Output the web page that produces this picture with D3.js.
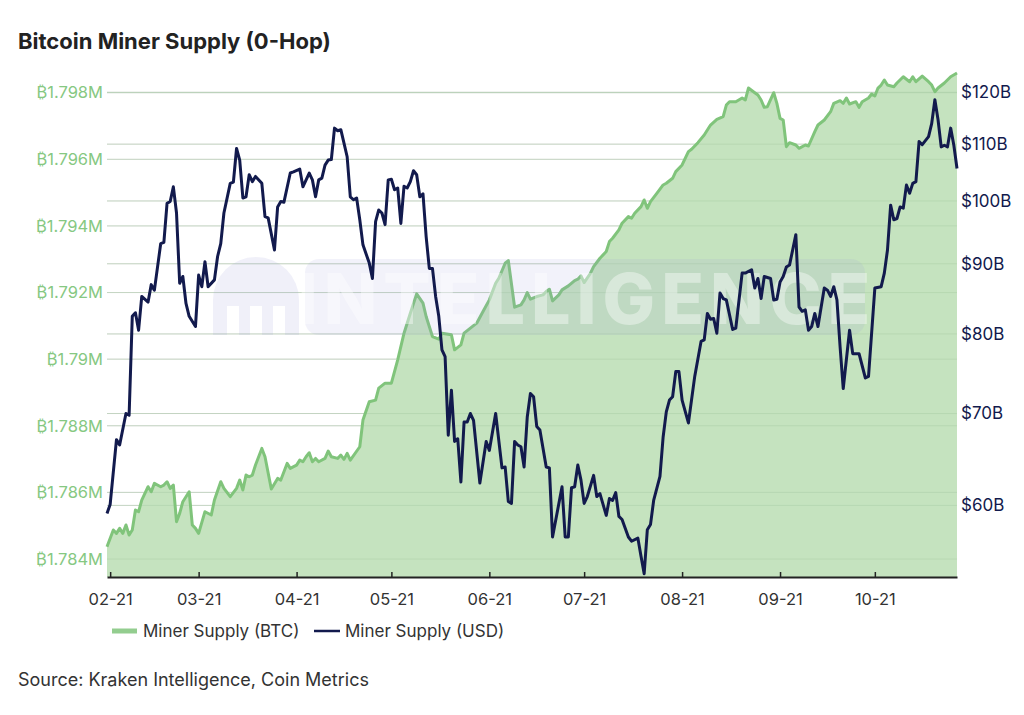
<!DOCTYPE html>
<html>
<head>
<meta charset="utf-8">
<script src="https://cdn.jsdelivr.net/npm/d3@7"></script>
<style>
  body { margin: 0; background: #fff; }
  svg { display: block; }
</style>
</head>
<body>
<svg id="chart" width="1024" height="715"></svg>
<script>
// ---------------- DATA ----------------
const btcDates = [
  "2021-01-31","2021-02-02","2021-02-03","2021-02-04","2021-02-05","2021-02-06","2021-02-07","2021-02-08",
  "2021-02-09","2021-02-10","2021-02-11","2021-02-13","2021-02-14","2021-02-15","2021-02-17","2021-02-18",
  "2021-02-19","2021-02-20","2021-02-21","2021-02-22","2021-02-23","2021-02-24","2021-02-26","2021-02-27",
  "2021-02-28","2021-03-01","2021-03-03","2021-03-05","2021-03-06","2021-03-08","2021-03-09","2021-03-11",
  "2021-03-13","2021-03-14","2021-03-15","2021-03-16","2021-03-17","2021-03-18","2021-03-19","2021-03-21",
  "2021-03-22","2021-03-24","2021-03-26","2021-03-27","2021-03-29","2021-03-30","2021-04-01","2021-04-02",
  "2021-04-03","2021-04-04","2021-04-05","2021-04-06","2021-04-07","2021-04-08","2021-04-10","2021-04-11",
  "2021-04-12","2021-04-14","2021-04-15","2021-04-16","2021-04-17","2021-04-18","2021-04-21","2021-04-22",
  "2021-04-24","2021-04-26","2021-04-27","2021-04-29","2021-05-01","2021-05-03","2021-05-05","2021-05-07",
  "2021-05-09","2021-05-11","2021-05-12","2021-05-14","2021-05-16","2021-05-17","2021-05-20","2021-05-21",
  "2021-05-23","2021-05-24","2021-05-26","2021-05-28","2021-05-30","2021-06-01","2021-06-03","2021-06-04",
  "2021-06-06","2021-06-07","2021-06-09","2021-06-11","2021-06-12","2021-06-13","2021-06-14","2021-06-16",
  "2021-06-18","2021-06-19","2021-06-20","2021-06-21","2021-06-23","2021-06-24","2021-06-26","2021-06-28",
  "2021-06-29","2021-06-30","2021-07-01","2021-07-03","2021-07-04","2021-07-06","2021-07-08","2021-07-09",
  "2021-07-10","2021-07-12","2021-07-13","2021-07-15","2021-07-16","2021-07-17","2021-07-19","2021-07-20",
  "2021-07-21","2021-07-22","2021-07-24","2021-07-26","2021-07-27","2021-07-29","2021-07-30","2021-08-01",
  "2021-08-03","2021-08-04","2021-08-06","2021-08-08","2021-08-10","2021-08-12","2021-08-14","2021-08-15",
  "2021-08-16","2021-08-18","2021-08-20","2021-08-21","2021-08-22","2021-08-24","2021-08-25","2021-08-26",
  "2021-08-27","2021-08-28","2021-08-30","2021-08-31","2021-09-01","2021-09-02","2021-09-03","2021-09-04",
  "2021-09-06","2021-09-07","2021-09-09","2021-09-10","2021-09-12","2021-09-13","2021-09-15","2021-09-17",
  "2021-09-18","2021-09-20","2021-09-21","2021-09-22","2021-09-23","2021-09-25","2021-09-26","2021-09-27",
  "2021-09-29","2021-09-30","2021-10-01","2021-10-02","2021-10-03","2021-10-04","2021-10-05","2021-10-07",
  "2021-10-08","2021-10-10","2021-10-12","2021-10-13","2021-10-14","2021-10-16","2021-10-18","2021-10-19",
  "2021-10-20","2021-10-21","2021-10-23","2021-10-25","2021-10-27"
];
// Miner supply in millions of BTC
const btcValues = [
  1.78437,1.78487,1.78477,1.78492,1.78477,1.78502,1.78472,1.78487,
  1.78547,1.78542,1.78577,1.78617,1.78602,1.78627,1.78617,1.78622,
  1.78632,1.78612,1.78622,1.78512,1.78537,1.78572,1.78602,1.78502,
  1.78492,1.78477,1.78542,1.78532,1.78577,1.78632,1.78612,1.78587,
  1.78612,1.78637,1.78607,1.78652,1.78647,1.78652,1.78682,1.78732,
  1.78707,1.78610,1.78642,1.78637,1.78687,1.78672,1.78682,1.78697,
  1.78692,1.78707,1.78719,1.78692,1.78702,1.78692,1.78702,1.78724,
  1.78707,1.78702,1.78712,1.78699,1.78717,1.78697,1.78737,1.78817,
  1.78872,1.78877,1.78913,1.78928,1.78928,1.78998,1.79078,1.79138,
  1.79196,1.79168,1.79128,1.79068,1.79060,1.79078,1.79073,1.79028,
  1.79043,1.79078,1.79093,1.79108,1.79143,1.79178,1.79228,1.79243,
  1.79288,1.79296,1.79156,1.79163,1.79178,1.79200,1.79180,1.79188,
  1.79193,1.79203,1.79210,1.79175,1.79193,1.79208,1.79220,1.79236,
  1.79240,1.79250,1.79230,1.79258,1.79278,1.79303,1.79323,1.79353,
  1.79363,1.79388,1.79408,1.79428,1.79423,1.79438,1.79458,1.79478,
  1.79453,1.79473,1.79498,1.79523,1.79528,1.79543,1.79563,1.79583,
  1.79623,1.79630,1.79650,1.79673,1.79703,1.79720,1.79728,1.79763,
  1.79773,1.79773,1.79784,1.79778,1.79814,1.79800,1.79793,1.79778,
  1.79756,1.79758,1.79800,1.79768,1.79723,1.79718,1.79638,1.79650,
  1.79643,1.79633,1.79643,1.79640,1.79683,1.79703,1.79718,1.79743,
  1.79768,1.79776,1.79768,1.79784,1.79766,1.79773,1.79756,1.79773,
  1.79784,1.79796,1.79790,1.79814,1.79823,1.79838,1.79823,1.79818,
  1.79829,1.79848,1.79833,1.79848,1.79833,1.79850,1.79833,1.79823,
  1.79803,1.79814,1.79829,1.79848,1.79859
];

const usdDates = [
  "2021-01-31","2021-02-01","2021-02-03","2021-02-04","2021-02-06","2021-02-07","2021-02-08","2021-02-09",
  "2021-02-10","2021-02-11","2021-02-13","2021-02-14","2021-02-15","2021-02-17","2021-02-18","2021-02-19",
  "2021-02-20","2021-02-21","2021-02-22","2021-02-23","2021-02-24","2021-02-25","2021-02-26","2021-02-28",
  "2021-03-01","2021-03-02","2021-03-03","2021-03-04","2021-03-06","2021-03-07","2021-03-08","2021-03-09",
  "2021-03-11","2021-03-12","2021-03-13","2021-03-14","2021-03-15","2021-03-16","2021-03-17","2021-03-18",
  "2021-03-19","2021-03-21","2021-03-22","2021-03-23","2021-03-25","2021-03-26","2021-03-27","2021-03-28",
  "2021-03-30","2021-03-31","2021-04-02","2021-04-03","2021-04-05","2021-04-06","2021-04-07","2021-04-08",
  "2021-04-09","2021-04-10","2021-04-11","2021-04-12","2021-04-13","2021-04-14","2021-04-15","2021-04-16",
  "2021-04-17","2021-04-18","2021-04-19","2021-04-20","2021-04-21","2021-04-22","2021-04-24","2021-04-25",
  "2021-04-26","2021-04-27","2021-04-28","2021-04-29","2021-04-30","2021-05-01","2021-05-02","2021-05-03",
  "2021-05-04","2021-05-05","2021-05-06","2021-05-07","2021-05-08","2021-05-09","2021-05-10","2021-05-11",
  "2021-05-12","2021-05-13","2021-05-14","2021-05-15","2021-05-16","2021-05-17","2021-05-18","2021-05-19",
  "2021-05-20","2021-05-21","2021-05-22","2021-05-23","2021-05-24","2021-05-25","2021-05-26","2021-05-27",
  "2021-05-29","2021-05-31","2021-06-01","2021-06-03","2021-06-05","2021-06-06","2021-06-07","2021-06-08",
  "2021-06-09","2021-06-10","2021-06-11","2021-06-12","2021-06-13","2021-06-14","2021-06-15","2021-06-16",
  "2021-06-17","2021-06-19","2021-06-20","2021-06-21","2021-06-24","2021-06-25","2021-06-26","2021-06-27",
  "2021-06-28","2021-06-29","2021-06-30","2021-07-01","2021-07-02","2021-07-04","2021-07-05","2021-07-06",
  "2021-07-08","2021-07-09","2021-07-10","2021-07-11","2021-07-12","2021-07-13","2021-07-15","2021-07-16",
  "2021-07-18","2021-07-19","2021-07-20","2021-07-21","2021-07-22","2021-07-23","2021-07-25","2021-07-26",
  "2021-07-27","2021-07-28","2021-07-29","2021-07-30","2021-07-31","2021-08-01","2021-08-03","2021-08-05",
  "2021-08-07","2021-08-08","2021-08-09","2021-08-10","2021-08-11","2021-08-12","2021-08-13","2021-08-14",
  "2021-08-15","2021-08-17","2021-08-18","2021-08-20","2021-08-21","2021-08-23","2021-08-24","2021-08-25",
  "2021-08-26","2021-08-27","2021-08-29","2021-08-30","2021-08-31","2021-09-01","2021-09-02","2021-09-03",
  "2021-09-04","2021-09-06","2021-09-07","2021-09-08","2021-09-09","2021-09-10","2021-09-11","2021-09-12",
  "2021-09-13","2021-09-15","2021-09-16","2021-09-17","2021-09-18","2021-09-19","2021-09-20","2021-09-21",
  "2021-09-23","2021-09-24","2021-09-26","2021-09-28","2021-09-29","2021-10-01","2021-10-03","2021-10-04",
  "2021-10-05","2021-10-06","2021-10-07","2021-10-08","2021-10-09","2021-10-10","2021-10-11","2021-10-12",
  "2021-10-13","2021-10-14","2021-10-15","2021-10-16","2021-10-18","2021-10-19","2021-10-20","2021-10-21",
  "2021-10-22","2021-10-23","2021-10-24","2021-10-25","2021-10-26","2021-10-27"
];
// Miner supply in billions of USD
const usdValues = [
  59.2,60.1,67.0,66.4,70.0,69.8,82.4,82.9,
  80.5,85.2,84.4,86.9,86.1,93.1,93.3,99.6,
  99.9,102.4,98.0,87.1,88.1,84.2,82.4,81.0,
  88.3,86.6,90.3,86.6,87.6,91.1,93.1,98.0,
  103.0,103.2,109.2,107.1,100.5,100.7,104.5,103.3,
  104.2,103.0,97.4,97.2,92.1,99.0,99.9,99.8,
  104.8,105.0,105.5,102.4,104.8,103.6,100.7,103.6,
  103.9,106.2,107.1,107.2,113.0,112.5,112.7,110.2,
  107.7,100.7,100.2,100.5,96.9,92.9,90.1,87.8,
  96.6,98.5,98.0,96.1,103.6,103.7,101.9,102.2,
  96.3,102.5,102.2,103.3,105.2,104.5,100.7,101.2,
  94.2,89.3,89.3,85.2,82.4,77.9,77.0,67.5,
  72.8,66.8,67.1,62.4,69.0,69.0,70.0,69.2,
  62.3,66.8,65.8,70.0,63.9,64.0,60.4,60.2,
  66.8,66.4,66.2,64.0,69.6,72.4,72.0,68.5,
  68.1,64.0,63.9,56.9,61.9,56.9,56.9,61.8,
  61.9,64.2,62.6,60.2,60.9,63.1,60.9,61.2,
  59.0,60.7,60.5,61.3,58.9,58.6,56.9,56.5,
  56.8,55.1,53.5,57.6,58.1,60.5,63.0,67.3,
  70.2,71.6,72.0,75.1,75.1,71.6,68.9,74.5,
  79.0,79.2,82.8,82.0,82.1,80.1,85.7,84.9,
  84.7,80.6,80.8,88.6,88.6,89.1,86.4,87.8,
  84.9,88.1,87.8,84.7,84.8,87.3,88.1,89.5,
  89.8,94.5,83.7,83.1,83.3,80.5,81.0,82.8,
  81.0,86.4,86.1,85.2,86.6,84.7,78.3,73.0,
  80.5,77.4,77.4,74.3,74.5,86.4,86.6,88.6,
  92.1,99.3,96.9,97.1,99.0,98.8,102.7,101.3,
  103.0,103.3,110.5,109.9,111.4,113.9,118.5,114.6,
  109.5,109.8,109.5,113.0,109.8,105.6
];

const btcTicks = [1.784, 1.786, 1.788, 1.790, 1.792, 1.794, 1.796, 1.798];
const usdTicks = [60, 70, 80, 90, 100, 110, 120];
const monthTicks = ["2021-02-01","2021-03-01","2021-04-01","2021-05-01","2021-06-01",
                    "2021-07-01","2021-08-01","2021-09-01","2021-10-01"];
const xDomain = ["2021-01-31", "2021-10-27"];
const seriesNames = ["Miner Supply (BTC)", "Miner Supply (USD)"];
const titleText = "Bitcoin Miner Supply (0-Hop)";
const sourceText = "Source: Kraken Intelligence, Coin Metrics";

// ---------------- CHART ----------------
const parse = d3.utcParse("%Y-%m-%d");
const fmtMonth = d3.utcFormat("%m-%y");
const FONT = "Inter, 'Helvetica Neue', Arial, sans-serif";
const GREEN_FILL = "#c2e2bc";
const GREEN_LINE = "#80c47b";
const GREEN_TEXT = "#86c882";
const NAVY = "#121a4d";

const plot = { left: 107, right: 957, top: 72, bottom: 577 };

const svg = d3.select("#chart");

const x = d3.scaleUtc().domain(xDomain.map(parse)).range([plot.left, plot.right]);
const yL = d3.scaleLinear().domain([1.784, 1.798]).range([559, 92.7]);
const yR = d3.scaleLog().domain([60, 120]).range([505.4, 92.3]);

const btc = btcDates.map((d, i) => ({ date: parse(d), v: btcValues[i] }));
const usd = usdDates.map((d, i) => ({ date: parse(d), v: usdValues[i] }));

const gridYs = btcTicks.map(yL).concat(usdTicks.map(yR));

// Gridlines
svg.append("g").selectAll("line").data(gridYs).join("line")
  .attr("x1", plot.left).attr("x2", plot.right)
  .attr("y1", d => d).attr("y2", d => d)
  .attr("stroke", "#dcdcdc").attr("stroke-width", 1);

// BTC area
const area = d3.area().x(d => x(d.date)).y0(plot.bottom).y1(d => yL(d.v));
svg.append("path").datum(btc).attr("d", area).attr("fill", GREEN_FILL).attr("fill-opacity", 0.95);

// Gridlines faintly visible through the area
svg.append("g").selectAll("line").data(gridYs).join("line")
  .attr("x1", plot.left).attr("x2", plot.right)
  .attr("y1", d => d).attr("y2", d => d)
  .attr("stroke", "#a9cba3").attr("stroke-opacity", 0.45).attr("stroke-width", 1);

const lineB = d3.line().x(d => x(d.date)).y(d => yL(d.v));
svg.append("path").datum(btc).attr("d", lineB)
  .attr("fill", "none").attr("stroke", GREEN_LINE).attr("stroke-width", 3)
  .attr("stroke-linejoin", "round");

// Watermark
const wm = svg.append("g");
wm.append("rect").attr("x", 305).attr("y", 259).attr("width", 560).attr("height", 76).attr("rx", 14)
  .attr("fill", "#9b9bd8").attr("fill-opacity", 0.13);
wm.append("path")
  .attr("d", "M213,335 L213,300 A43,43 0 0 1 299,300 L299,335 L285,335 L285,306 L273,306 L273,335 L262,335 L262,306 L250,306 L250,335 L239,335 L239,306 L227,306 L227,335 Z")
  .attr("fill", "#9b9bd8").attr("fill-opacity", 0.15);
wm.append("text").attr("x", 587).attr("y", 324).attr("text-anchor", "middle")
  .attr("font-family", FONT).attr("font-weight", 800).attr("font-size", 70)
  .attr("letter-spacing", 6)
  .attr("fill", "#ffffff").attr("fill-opacity", 0.4).text("INTELLIGENCE");

// USD line
const lineU = d3.line().x(d => x(d.date)).y(d => yR(d.v));
svg.append("path").datum(usd).attr("d", lineU)
  .attr("fill", "none").attr("stroke", NAVY).attr("stroke-width", 3)
  .attr("stroke-linejoin", "round");

// X axis
const xAxis = d3.axisBottom(x).tickValues(monthTicks.map(parse)).tickFormat(fmtMonth)
  .tickSizeInner(-5).tickSizeOuter(0).tickPadding(16);
const gx = svg.append("g").attr("transform", `translate(0,${plot.bottom})`).call(xAxis);
gx.select(".domain").attr("stroke", "#222").attr("stroke-width", 2);
gx.selectAll(".tick line").attr("stroke", "#222").attr("stroke-width", 1.5);
gx.selectAll(".tick text").attr("font-family", FONT).attr("font-size", 16.5).attr("fill", "#333");

// Left axis
const yAxisL = d3.axisLeft(yL).tickValues(btcTicks)
  .tickFormat(d => "\u20BF" + d3.format(".3~f")(d) + "M").tickSize(0).tickPadding(4);
const gl = svg.append("g").attr("transform", `translate(${plot.left},0)`).call(yAxisL);
gl.select(".domain").remove();
gl.selectAll(".tick text").attr("font-family", FONT).attr("font-size", 16.5).attr("fill", GREEN_TEXT);

// Right axis
const yAxisR = d3.axisRight(yR).tickValues(usdTicks).tickFormat(d => "$" + d + "B").tickSize(0).tickPadding(4);
const gr = svg.append("g").attr("transform", `translate(${plot.right},0)`).call(yAxisR);
gr.select(".domain").remove();
gr.selectAll(".tick text").attr("font-family", FONT).attr("font-size", 17).attr("fill", NAVY);

// Title
svg.append("text").attr("x", 18).attr("y", 49)
  .attr("font-family", FONT).attr("font-weight", 700).attr("font-size", 22).attr("fill", "#222")
  .text(titleText);

// Legend
const lg = svg.append("g");
lg.append("line").attr("x1", 112).attr("x2", 137).attr("y1", 631).attr("y2", 631)
  .attr("stroke", GREEN_LINE).attr("stroke-width", 5).attr("stroke-opacity", 0.85);
lg.append("text").attr("x", 143).attr("y", 637).attr("font-family", FONT).attr("font-size", 17)
  .attr("fill", "#333").text(seriesNames[0]);
lg.append("line").attr("x1", 314).attr("x2", 340).attr("y1", 631).attr("y2", 631)
  .attr("stroke", NAVY).attr("stroke-width", 2.5);
lg.append("text").attr("x", 345).attr("y", 637).attr("font-family", FONT).attr("font-size", 17)
  .attr("fill", "#333").text(seriesNames[1]);

// Source
svg.append("text").attr("x", 18).attr("y", 686)
  .attr("font-family", FONT).attr("font-size", 18).attr("fill", "#333").text(sourceText);
</script>
</body>
</html>
